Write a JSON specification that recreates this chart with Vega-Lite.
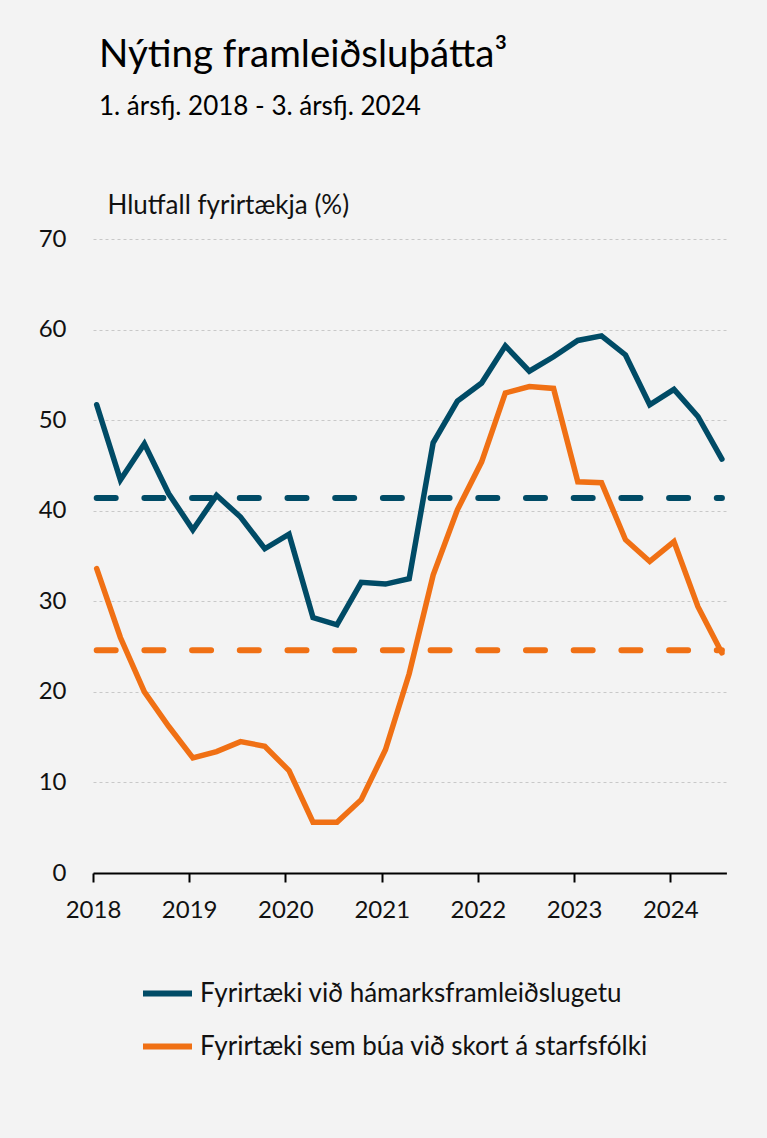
{
  "$schema": "https://vega.github.io/schema/vega-lite/v6.json",
  "width": 633.4,
  "height": 634,
  "autosize": {"type": "none"},
  "padding": {"left": 93, "top": 239, "right": 40.6, "bottom": 265},
  "background": "#f3f3f3",
  "config": {
    "font": "Lato",
    "view": {"stroke": null}
  },
  "title": {
    "text": "Nýting framleiðsluþátta³",
    "subtitle": "1. ársfj. 2018 - 3. ársfj. 2024",
    "anchor": "start",
    "frame": "group",
    "orient": "top",
    "dx": 6,
    "offset": 71,
    "font": "Lato",
    "fontSize": 38.5,
    "fontWeight": "normal",
    "color": "#000000",
    "subtitleFont": "Lato",
    "subtitleFontSize": 26,
    "subtitleColor": "#000000",
    "subtitlePadding": 19
  },
  "datasets": {
    "series": [
      {"date": "2018-01-15", "series": "Fyrirtæki við hámarksframleiðslugetu", "value": 51.7},
      {"date": "2018-04-15", "series": "Fyrirtæki við hámarksframleiðslugetu", "value": 43.4},
      {"date": "2018-07-15", "series": "Fyrirtæki við hámarksframleiðslugetu", "value": 47.4},
      {"date": "2018-10-15", "series": "Fyrirtæki við hámarksframleiðslugetu", "value": 41.9},
      {"date": "2019-01-15", "series": "Fyrirtæki við hámarksframleiðslugetu", "value": 37.9},
      {"date": "2019-04-15", "series": "Fyrirtæki við hámarksframleiðslugetu", "value": 41.7},
      {"date": "2019-07-15", "series": "Fyrirtæki við hámarksframleiðslugetu", "value": 39.3},
      {"date": "2019-10-15", "series": "Fyrirtæki við hámarksframleiðslugetu", "value": 35.8},
      {"date": "2020-01-15", "series": "Fyrirtæki við hámarksframleiðslugetu", "value": 37.4},
      {"date": "2020-04-15", "series": "Fyrirtæki við hámarksframleiðslugetu", "value": 28.2},
      {"date": "2020-07-15", "series": "Fyrirtæki við hámarksframleiðslugetu", "value": 27.4},
      {"date": "2020-10-15", "series": "Fyrirtæki við hámarksframleiðslugetu", "value": 32.1},
      {"date": "2021-01-15", "series": "Fyrirtæki við hámarksframleiðslugetu", "value": 31.9},
      {"date": "2021-04-15", "series": "Fyrirtæki við hámarksframleiðslugetu", "value": 32.5},
      {"date": "2021-07-15", "series": "Fyrirtæki við hámarksframleiðslugetu", "value": 47.5},
      {"date": "2021-10-15", "series": "Fyrirtæki við hámarksframleiðslugetu", "value": 52.1},
      {"date": "2022-01-15", "series": "Fyrirtæki við hámarksframleiðslugetu", "value": 54.1},
      {"date": "2022-04-15", "series": "Fyrirtæki við hámarksframleiðslugetu", "value": 58.2},
      {"date": "2022-07-15", "series": "Fyrirtæki við hámarksframleiðslugetu", "value": 55.4},
      {"date": "2022-10-15", "series": "Fyrirtæki við hámarksframleiðslugetu", "value": 57.0},
      {"date": "2023-01-15", "series": "Fyrirtæki við hámarksframleiðslugetu", "value": 58.8},
      {"date": "2023-04-15", "series": "Fyrirtæki við hámarksframleiðslugetu", "value": 59.3},
      {"date": "2023-07-15", "series": "Fyrirtæki við hámarksframleiðslugetu", "value": 57.2},
      {"date": "2023-10-15", "series": "Fyrirtæki við hámarksframleiðslugetu", "value": 51.7},
      {"date": "2024-01-15", "series": "Fyrirtæki við hámarksframleiðslugetu", "value": 53.4},
      {"date": "2024-04-15", "series": "Fyrirtæki við hámarksframleiðslugetu", "value": 50.4},
      {"date": "2024-07-15", "series": "Fyrirtæki við hámarksframleiðslugetu", "value": 45.7},
      {"date": "2018-01-15", "series": "Fyrirtæki sem búa við skort á starfsfólki", "value": 33.6},
      {"date": "2018-04-15", "series": "Fyrirtæki sem búa við skort á starfsfólki", "value": 26.0},
      {"date": "2018-07-15", "series": "Fyrirtæki sem búa við skort á starfsfólki", "value": 20.0},
      {"date": "2018-10-15", "series": "Fyrirtæki sem búa við skort á starfsfólki", "value": 16.2},
      {"date": "2019-01-15", "series": "Fyrirtæki sem búa við skort á starfsfólki", "value": 12.7},
      {"date": "2019-04-15", "series": "Fyrirtæki sem búa við skort á starfsfólki", "value": 13.4},
      {"date": "2019-07-15", "series": "Fyrirtæki sem búa við skort á starfsfólki", "value": 14.5},
      {"date": "2019-10-15", "series": "Fyrirtæki sem búa við skort á starfsfólki", "value": 14.0},
      {"date": "2020-01-15", "series": "Fyrirtæki sem búa við skort á starfsfólki", "value": 11.3},
      {"date": "2020-04-15", "series": "Fyrirtæki sem búa við skort á starfsfólki", "value": 5.6},
      {"date": "2020-07-15", "series": "Fyrirtæki sem búa við skort á starfsfólki", "value": 5.6},
      {"date": "2020-10-15", "series": "Fyrirtæki sem búa við skort á starfsfólki", "value": 8.1},
      {"date": "2021-01-15", "series": "Fyrirtæki sem búa við skort á starfsfólki", "value": 13.6},
      {"date": "2021-04-15", "series": "Fyrirtæki sem búa við skort á starfsfólki", "value": 22.0},
      {"date": "2021-07-15", "series": "Fyrirtæki sem búa við skort á starfsfólki", "value": 32.9},
      {"date": "2021-10-15", "series": "Fyrirtæki sem búa við skort á starfsfólki", "value": 40.1},
      {"date": "2022-01-15", "series": "Fyrirtæki sem búa við skort á starfsfólki", "value": 45.4},
      {"date": "2022-04-15", "series": "Fyrirtæki sem búa við skort á starfsfólki", "value": 53.0},
      {"date": "2022-07-15", "series": "Fyrirtæki sem búa við skort á starfsfólki", "value": 53.7},
      {"date": "2022-10-15", "series": "Fyrirtæki sem búa við skort á starfsfólki", "value": 53.5},
      {"date": "2023-01-15", "series": "Fyrirtæki sem búa við skort á starfsfólki", "value": 43.2},
      {"date": "2023-04-15", "series": "Fyrirtæki sem búa við skort á starfsfólki", "value": 43.1},
      {"date": "2023-07-15", "series": "Fyrirtæki sem búa við skort á starfsfólki", "value": 36.8},
      {"date": "2023-10-15", "series": "Fyrirtæki sem búa við skort á starfsfólki", "value": 34.4},
      {"date": "2024-01-15", "series": "Fyrirtæki sem búa við skort á starfsfólki", "value": 36.6},
      {"date": "2024-04-15", "series": "Fyrirtæki sem búa við skort á starfsfólki", "value": 29.4},
      {"date": "2024-07-15", "series": "Fyrirtæki sem búa við skort á starfsfólki", "value": 24.3}
    ],
    "averages": [
      {"series": "Fyrirtæki við hámarksframleiðslugetu", "start": "2018-01-15", "end": "2024-07-15", "avg": 41.4},
      {"series": "Fyrirtæki sem búa við skort á starfsfólki", "start": "2018-01-15", "end": "2024-07-15", "avg": 24.6}
    ]
  },
  "layer": [
    {
      "data": {"name": "averages"},
      "transform": [{"filter": "datum.series === 'Fyrirtæki við hámarksframleiðslugetu'"}],
      "mark": {"type": "rule", "strokeWidth": 6, "strokeDash": [19, 28.7], "strokeCap": "round", "color": "#004b66"},
      "encoding": {
        "x": {"field": "start", "type": "temporal"},
        "x2": {"field": "end"},
        "y": {"field": "avg", "type": "quantitative"}
      }
    },
    {
      "data": {"name": "averages"},
      "transform": [{"filter": "datum.series === 'Fyrirtæki sem búa við skort á starfsfólki'"}],
      "mark": {"type": "rule", "strokeWidth": 6, "strokeDash": [19, 28.7], "strokeCap": "round", "color": "#f07014"},
      "encoding": {
        "x": {"field": "start", "type": "temporal"},
        "x2": {"field": "end"},
        "y": {"field": "avg", "type": "quantitative"}
      }
    },
    {
      "data": {"name": "series"},
      "mark": {"type": "line", "strokeWidth": 5.5, "strokeCap": "round"},
      "encoding": {
        "x": {
          "field": "date",
          "type": "temporal",
          "scale": {
            "type": "utc",
            "domain": [
              {"year": 2018, "month": 1, "date": 1, "utc": true},
              {"year": 2024, "month": 8, "date": 1, "utc": true}
            ]
          },
          "axis": {
            "title": null,
            "values": [
              {"year": 2018, "month": 1, "date": 1, "utc": true},
              {"year": 2019, "month": 1, "date": 1, "utc": true},
              {"year": 2020, "month": 1, "date": 1, "utc": true},
              {"year": 2021, "month": 1, "date": 1, "utc": true},
              {"year": 2022, "month": 1, "date": 1, "utc": true},
              {"year": 2023, "month": 1, "date": 1, "utc": true},
              {"year": 2024, "month": 1, "date": 1, "utc": true}
            ],
            "format": "%Y",
            "formatType": "utc",
            "grid": false,
            "domainColor": "#000000",
            "domainWidth": 2,
            "tickColor": "#000000",
            "tickWidth": 2,
            "tickSize": 9,
            "labelFont": "Lato",
            "labelFontSize": 24,
            "labelColor": "#111111",
            "labelPadding": 16,
            "labelBaseline": "top",
            "labelFlush": false,
            "labelOverlap": false
          }
        },
        "y": {
          "field": "value",
          "type": "quantitative",
          "scale": {"domain": [0, 70]},
          "axis": {
            "values": [0, 10, 20, 30, 40, 50, 60, 70],
            "title": "Hlutfall fyrirtækja (%)",
            "titleAngle": 0,
            "titleAlign": "left",
            "titleBaseline": "alphabetic",
            "titleX": 14,
            "titleY": -25.7,
            "titleFont": "Lato",
            "titleFontSize": 26,
            "titleFontWeight": "normal",
            "titleColor": "#111111",
            "domain": false,
            "ticks": false,
            "labelFont": "Lato",
            "labelFontSize": 24,
            "labelColor": "#111111",
            "labelPadding": 27,
            "grid": true,
            "gridColor": "#c8c8c8",
            "gridDash": [3, 3],
            "gridWidth": 1
          }
        },
        "color": {
          "field": "series",
          "type": "nominal",
          "scale": {
            "domain": ["Fyrirtæki við hámarksframleiðslugetu", "Fyrirtæki sem búa við skort á starfsfólki"],
            "range": ["#004b66", "#f07014"]
          },
          "legend": {
            "title": null,
            "orient": "none",
            "legendX": 47,
            "legendY": 727,
            "direction": "vertical",
            "symbolType": "stroke",
            "symbolSize": 2401,
            "symbolStrokeWidth": 6,
            "labelFont": "Lato",
            "labelFontSize": 26,
            "labelColor": "#111111",
            "labelOffset": 5,
            "labelLimit": 600,
            "rowPadding": 12
          }
        }
      }
    }
  ]
}
